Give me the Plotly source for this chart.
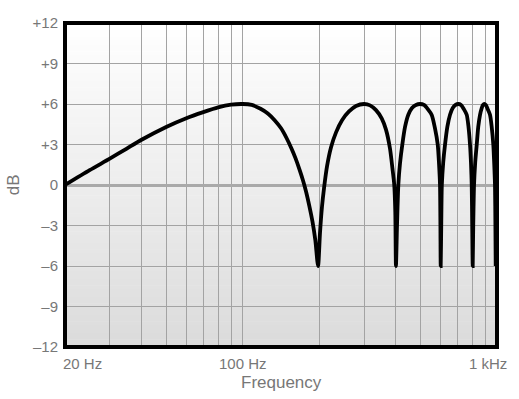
import plotly.graph_objects as go
import math

# ---- data (frequency in Hz, level in dB) ----
freq_hz = [
    # lobe 1 (20 Hz -> first notch)
    20, 25, 30, 35, 40, 50, 60, 70, 80, 90, 100, 108.5, 117.5, 125.5, 133.5, 141.5, 148.5, 155.5, 161.5, 167.5, 172.5, 177.5, 183, 188, 193, 197.8,
    # lobe 2
    201.4, 205.0, 208.9, 214.6, 222.5, 232.8, 245.8, 261.8, 279.0, 299.9, 316.7, 334.3, 352.0, 365.9, 379.4, 388.1, 394.4, 398.1, 400.5,
    # lobe 3
    404.4, 409.2, 415.5, 424.3, 434.8, 447.9, 463.1, 480.1, 497.8, 516.3, 535.4, 553.7, 570.4, 584.6, 591.4, 596.8, 599.0, 600.6,
    # lobe 4
    603.6, 606.9, 614.6, 624.7, 637.8, 653.5, 669.7, 686.9, 704.5, 722.0, 741.7, 760.1, 772.6, 783.2, 790.2, 795.3, 798.9, 802.5,
    # lobe 5
    806.4, 812.3, 821.1, 832.4, 843.7, 857.5, 870.8, 881.1, 891.5, 903.6, 920.2, 938.6, 953.2, 967.1, 975.0, 982.0, 985.6, 988.3,
]
level_db = [
    0, 1.1, 1.95, 2.7, 3.35, 4.3, 4.95, 5.4, 5.75, 5.95, 6.0, 5.93, 5.65, 5.3, 4.8, 4.2, 3.5, 2.7, 1.95, 1.1, 0.35, -0.5, -1.6, -2.7, -4.1, -6,
    -3.5, -1.6, -0.2, 1.4, 2.8, 3.9, 4.8, 5.45, 5.85, 6.0, 5.9, 5.55, 4.94, 4.1, 2.7, 1.2, 0, -2.0, -6,
    -3.0, 0, 1.6, 3.0, 4.3, 5.2, 5.7, 5.93, 6.0, 5.93, 5.6, 5.19, 4.2, 3.0, 1.6, 0, -3.0, -6,
    -3.0, 0, 1.7, 3.0, 4.3, 5.2, 5.7, 5.93, 6.0, 5.93, 5.6, 5.2, 4.3, 3.0, 1.6, 0, -3.0, -6,
    -3.0, 0, 1.7, 3.0, 4.3, 5.2, 5.7, 5.93, 6.0, 5.93, 5.6, 5.2, 4.3, 3.0, 1.6, 0, -3.0, -6,
]

x_grid = [30, 40, 50, 60, 70, 80, 90, 100, 200, 300, 400, 500, 600, 700, 800, 900]
y_ticks = [-12, -9, -6, -3, 0, 3, 6, 9, 12]
y_ticktext = ["\u201312", "\u20139", "\u20136", "\u20133", "0", "+3", "+6", "+9", "+12"]
x_labels = [(20, "20 Hz", "left", -4), (100, "100 Hz", "center", 0), (1000, "1 kHz", "right", 12)]

X_RANGE = [20, 1000]
Y_RANGE = [-12, 12]

FONT = "Liberation Sans, Arial, sans-serif"
TXT = "#777777"

fig = go.Figure()
fig.add_trace(go.Scatter(
    x=freq_hz, y=level_db, mode="lines",
    line=dict(color="black", width=3.8, shape="spline", smoothing=0.7),
    hoverinfo="skip", showlegend=False,
))

# vertical gradient background (white at top -> light grey at bottom)
shapes = []
n_bands = 90
for i in range(n_bands):
    t0 = i / n_bands
    t1 = (i + 1) / n_bands
    tm = (t0 + t1) / 2
    c = round(219 + (255 - 219) * tm)
    shapes.append(dict(type="rect", xref="paper", yref="paper", x0=0, x1=1, y0=t0, y1=t1 + 0.002,
                       fillcolor=f"rgb({c},{c},{c})", line=dict(width=0), layer="below"))
# frame
shapes.append(dict(type="rect", xref="paper", yref="paper", x0=0, x1=1, y0=0, y1=1,
                   line=dict(color="black", width=4), layer="above"))

annotations = []
for v, txt, anchor, shift in x_labels:
    annotations.append(dict(x=math.log10(v), xref="x", y=0, yref="paper", yanchor="top", yshift=-6,
                            xanchor=anchor, xshift=shift, text=txt, showarrow=False,
                            font=dict(family=FONT, size=15, color=TXT)))
annotations.append(dict(x=0.5, xref="paper", y=-0.111, yref="paper", yanchor="middle", xanchor="center",
                        text="Frequency", showarrow=False, font=dict(family=FONT, size=17, color=TXT)))
annotations.append(dict(x=-0.12, xref="paper", y=0.5, yref="paper", yanchor="middle", xanchor="center",
                        text="dB", textangle=-90, showarrow=False, font=dict(family=FONT, size=17, color=TXT)))

fig.update_layout(
    width=519, height=399,
    margin=dict(l=65, r=22, t=23, b=52),
    paper_bgcolor="white", plot_bgcolor="rgba(0,0,0,0)",
    shapes=shapes, annotations=annotations,
    xaxis=dict(type="log", range=[math.log10(X_RANGE[0]), math.log10(X_RANGE[1])],
               tickvals=x_grid, showticklabels=False, ticks="",
               showgrid=True, gridcolor="#a3a3a3", gridwidth=1, zeroline=False, showline=False),
    yaxis=dict(range=Y_RANGE, tickvals=y_ticks, ticktext=y_ticktext, ticks="",
               tickfont=dict(family=FONT, size=15, color=TXT), ticklabelstandoff=6,
               showgrid=True, gridcolor="#a3a3a3", gridwidth=1,
               zeroline=True, zerolinecolor="#a9a9a9", zerolinewidth=2.5, showline=False),
)

fig.write_html("out.html")
